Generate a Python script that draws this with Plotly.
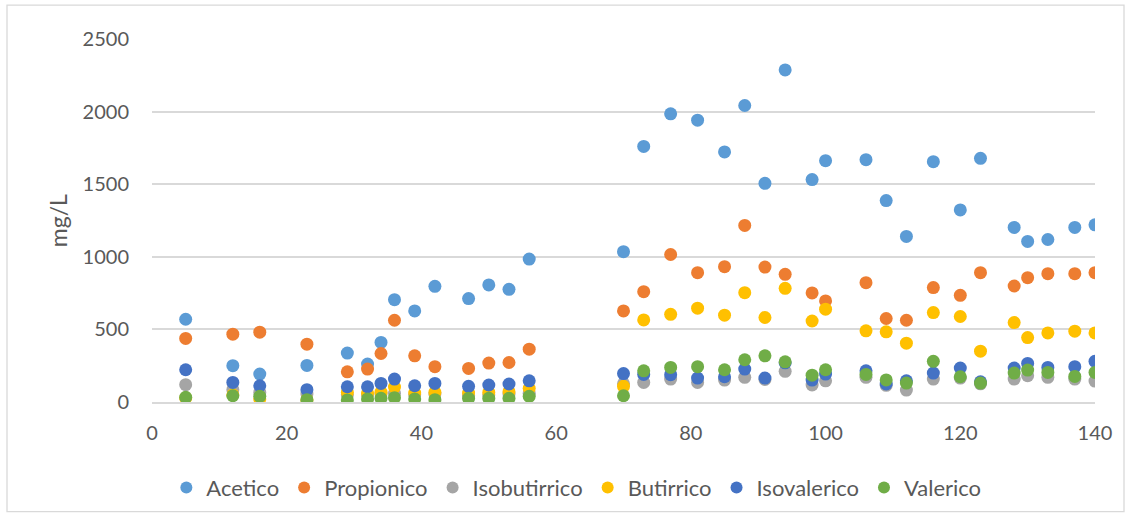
import plotly.graph_objects as go

# Sampling days
days = [5, 12, 16, 23, 29, 32, 34, 36, 39, 42, 47, 50, 53, 56,
        70, 73, 77, 81, 85, 88, 91, 94, 98, 100, 106, 109, 112, 116,
        120, 123, 128, 130, 133, 137, 140]

# Volatile fatty acid concentrations (mg/L)
acetico = [570, 250, 192, 252, 337, 261, 410, 705, 627, 797, 712, 806, 776, 984,
           1035, 1760, 1985, 1941, 1722, 2042, 1506, 2287, 1532, 1662, 1669, 1387,
           1140, 1655, 1323, 1678, 1202, 1106, 1119, 1202, 1220]
propionico = [438, 467, 481, 398, 208, 227, 334, 563, 318, 243, 231, 268, 272, 364,
              627, 760, 1016, 891, 932, 1216, 929, 879, 751, 696, 822, 575,
              563, 788, 735, 891, 799, 856, 884, 884, 891]
isobutirrico = [119, 85, 66, 55, 50, 50, 55, 60, 50, 55, 45, 50, 55, 60,
                125, 135, 158, 135, 151, 170, 155, 211, 117, 146, 170, 115,
                82, 158, 165, 125, 158, 181, 170, 158, 144]
butirrico = [28, 50, 21, 15, 66, 60, 68, 103, 62, 66, 62, 66, 71, 94,
             108, 565, 604, 646, 598, 753, 582, 783, 558, 639, 490, 483,
             405, 616, 589, 350, 547, 444, 476, 488, 476]
isovalerico = [222, 135, 112, 85, 105, 105, 128, 158, 112, 128, 108, 117, 124, 146,
               196, 190, 188, 165, 174, 227, 165, 270, 151, 192, 215, 124,
               146, 199, 234, 139, 234, 266, 238, 243, 280]
valerico = [32, 43, 39, 16, 14, 21, 25, 30, 21, 16, 25, 25, 25, 39,
            43, 215, 238, 243, 222, 291, 318, 277, 185, 222, 190, 152,
            130, 280, 174, 130, 199, 220, 204, 176, 204]

series = [
    ("Acetico", acetico, "#5B9BD5"),
    ("Propionico", propionico, "#ED7D31"),
    ("Isobutirrico", isobutirrico, "#A5A5A5"),
    ("Butirrico", butirrico, "#FFC000"),
    ("Isovalerico", isovalerico, "#4472C4"),
    ("Valerico", valerico, "#70AD47"),
]

x_ticks = [0, 20, 40, 60, 80, 100, 120, 140]
y_ticks = [0, 500, 1000, 1500, 2000, 2500]

FONT = "Lato, 'Open Sans', sans-serif"
TEXT_COLOR = "#595959"
GRID = "#D9D9D9"

fig = go.Figure()
for name, values, color in series:
    fig.add_trace(go.Scatter(
        x=days, y=values, name=name, mode="markers",
        marker=dict(size=13, color=color, line=dict(width=0)),
    ))

fig.update_layout(
    width=1131, height=519,
    margin=dict(l=152, r=36, t=39, b=116),
    paper_bgcolor="white", plot_bgcolor="white",
    font=dict(family=FONT, size=20, color=TEXT_COLOR),
    showlegend=True,
    legend=dict(
        orientation="h", x=0.45, xanchor="center", y=-0.175, yanchor="top",
        font=dict(family=FONT, size=22, color=TEXT_COLOR),
        itemsizing="constant", itemwidth=30, tracegroupgap=0,
    ),
    xaxis=dict(
        range=[0, 140], tickvals=x_ticks, showgrid=False, zeroline=False,
        showline=True, linecolor=GRID, linewidth=1.5,
        ticks="outside", ticklen=12, tickcolor="rgba(0,0,0,0)",
        tickfont=dict(family=FONT, size=20, color=TEXT_COLOR),
    ),
    yaxis=dict(
        range=[0, 2500], tickvals=y_ticks, showgrid=True, gridcolor=GRID,
        gridwidth=1.5, zeroline=False, showline=False,
        ticks="outside", ticklen=18, tickcolor="rgba(0,0,0,0)",
        tickfont=dict(family=FONT, size=20, color=TEXT_COLOR),
    ),
    annotations=[dict(
        text="mg/L", xref="paper", yref="paper", x=-0.1, y=0.5,
        xanchor="center", yanchor="middle", textangle=-90, showarrow=False,
        font=dict(family=FONT, size=23, color=TEXT_COLOR),
    )],
    shapes=[dict(
        type="rect", xref="paper", yref="paper",
        x0=-145 / 943, x1=1.0 + 29 / 943, y0=-110 / 364, y1=1.0 + 34 / 364,
        line=dict(color=GRID, width=1.3), fillcolor="rgba(0,0,0,0)",
    )],
)

fig.write_html("out.html")
